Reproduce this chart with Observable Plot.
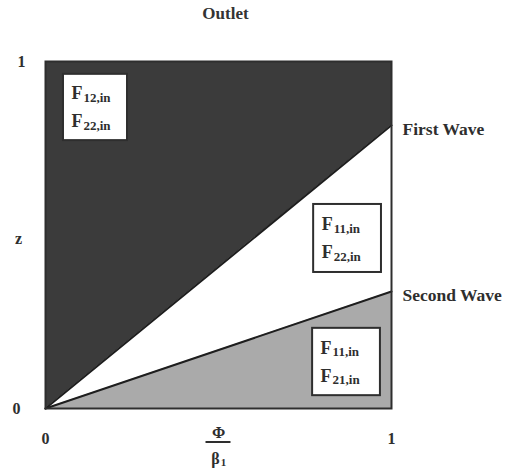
<!DOCTYPE html>
<html><head><meta charset="utf-8">
<script src="https://cdn.jsdelivr.net/npm/d3@7"></script>
<script src="https://cdn.jsdelivr.net/npm/@observablehq/plot@0.6"></script>
<style>
body{margin:0;background:#fff;}
#chart{position:relative;width:515px;height:471px;}
#title{position:absolute;left:0;width:451px;top:4px;text-align:center;font-family:"Liberation Serif",serif;font-weight:bold;font-size:17px;color:#333;}
</style>
</head><body>
<div id="chart"><div id="title">Outlet</div></div>
<script>
// ---- data ----
const phi = [0, 1];
const firstWave = [0, 0.816];
const secondWave = [0, 0.337];
const waveNames = ["First Wave", "Second Wave"];
const waveEnds = [0.816, 0.337];
const xTicks = [0, 1];
const yTicks = [0, 1];
// region label boxes (data units)
const boxPhi1 = [0.052, 0.775, 0.772];
const boxPhi2 = [0.237, 0.971, 0.968];
const boxZ1 = [0.772, 0.392, 0.037];
const boxZ2 = [0.963, 0.588, 0.231];
const boxLine1 = ["12,in", "11,in", "11,in"];
const boxLine2 = ["22,in", "22,in", "21,in"];

const serif = "Liberation Serif";
const ink = "#2e2e2e";
const idx = d3.range(phi.length);
const boxIdx = d3.range(boxPhi1.length);
const boxMid = boxIdx.map(i => (boxZ1[i] + boxZ2[i]) / 2);

// fraction bar under Φ, positioned from the x/y scales
function fractionBar(index, scales) {
  const cx = scales.x(0.5), cy = scales.y(0) + 34;
  const line = document.createElementNS("http://www.w3.org/2000/svg", "line");
  line.setAttribute("x1", cx - 12.5);
  line.setAttribute("x2", cx + 12.5);
  line.setAttribute("y1", cy);
  line.setAttribute("y2", cy);
  line.setAttribute("stroke", ink);
  line.setAttribute("stroke-width", 2);
  return line;
}

const chart = Plot.plot({
  width: 515,
  height: 471,
  marginLeft: 45,
  marginRight: 124,
  marginTop: 61,
  marginBottom: 63,
  x: {domain: [0, 1]},
  y: {domain: [0, 1]},
  style: {fontFamily: serif, fontSize: "16px", fontWeight: "bold", color: ink, background: "transparent"},
  marks: [
    Plot.areaY(idx, {x: i => phi[i], y1: i => firstWave[i], y2: () => 1, fill: "#3b3b3b"}),
    Plot.areaY(idx, {x: i => phi[i], y1: () => 0, y2: i => secondWave[i], fill: "#aaaaaa"}),
    Plot.line(idx, {x: i => phi[i], y: i => firstWave[i], stroke: "#1e1e1e", strokeWidth: 2}),
    Plot.line(idx, {x: i => phi[i], y: i => secondWave[i], stroke: "#1e1e1e", strokeWidth: 2}),
    Plot.rect(boxIdx, {x1: i => boxPhi1[i], x2: i => boxPhi2[i], y1: i => boxZ1[i], y2: i => boxZ2[i], fill: "white", stroke: ink, strokeWidth: 2}),
    Plot.text(boxIdx, {x: i => boxPhi1[i], y: i => boxMid[i], text: () => "F", textAnchor: "start", dx: 8, dy: -14, fontSize: 18, fill: ink}),
    Plot.text(boxIdx, {x: i => boxPhi1[i], y: i => boxMid[i], text: i => boxLine1[i], textAnchor: "start", dx: 20, dy: -10, fontSize: 13, fill: ink}),
    Plot.text(boxIdx, {x: i => boxPhi1[i], y: i => boxMid[i], text: () => "F", textAnchor: "start", dx: 8, dy: 14, fontSize: 18, fill: ink}),
    Plot.text(boxIdx, {x: i => boxPhi1[i], y: i => boxMid[i], text: i => boxLine2[i], textAnchor: "start", dx: 20, dy: 18, fontSize: 13, fill: ink}),
    Plot.text(waveNames, {x: () => 1, y: (d, i) => waveEnds[i], text: d => d, textAnchor: "start", dx: 11, dy: 4, fontSize: 17.5, fill: ink}),
    Plot.frame({stroke: ink, strokeWidth: 2}),
    Plot.axisX(xTicks, {tickSize: 0, tickPadding: 24, label: null, tickFormat: d => String(d), fontSize: 16}),
    Plot.axisY(yTicks.filter(d => d === 1), {tickSize: 0, tickPadding: 20, label: null, tickFormat: d => String(d), fontSize: 16}),
    Plot.axisY(yTicks.filter(d => d === 0), {tickSize: 0, tickPadding: 25, label: null, tickFormat: d => String(d), fontSize: 16}),
    Plot.text(["z"], {x: () => 0, y: () => 0.49, dx: -27, fontSize: 16, fill: ink}),
    Plot.text(["Φ"], {x: () => 0.5, y: () => 0, dy: 24, fontSize: 16, fill: ink}),
    fractionBar,
    Plot.text(["β"], {x: () => 0.5, y: () => 0, dy: 50, dx: -3, fontSize: 16, fill: ink}),
    Plot.text(["1"], {x: () => 0.5, y: () => 0, dy: 54, dx: 5, fontSize: 11, fill: ink})
  ]
});
document.getElementById("chart").appendChild(chart);
</script>
</body></html>
